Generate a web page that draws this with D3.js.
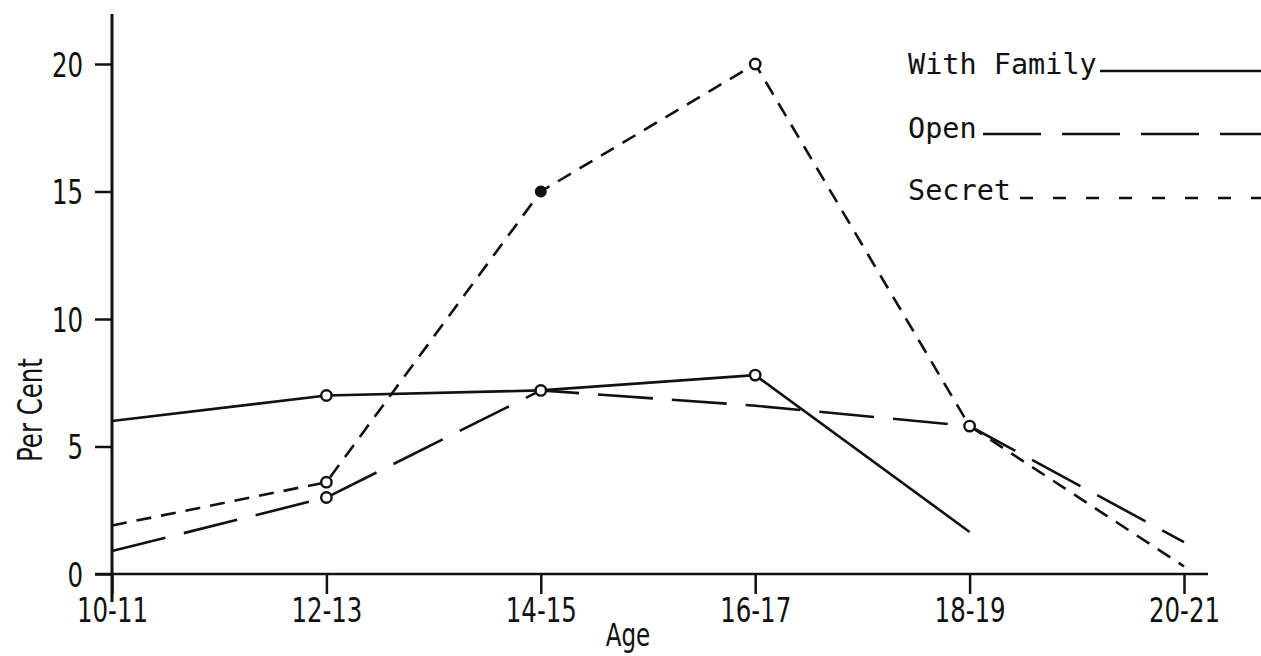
<!DOCTYPE html>
<html>
<head>
<meta charset="utf-8">
<script src="https://cdn.jsdelivr.net/npm/d3@7"></script>
<style>
  html, body { margin: 0; padding: 0; background: #fff; }
  svg { display: block; }
  .tick-lbl { font-family: "Liberation Sans Narrow", "DejaVu Sans Condensed", "Liberation Sans", sans-serif; font-size: 34px; fill: #111; }
  .legend-lbl { font-family: "DejaVu Sans Mono", "Liberation Mono", monospace; font-size: 28.5px; fill: #111; }
</style>
</head>
<body>
<svg id="chart" width="1261" height="656"></svg>
<script>
// ---- data ----
const ages = ["10-11", "12-13", "14-15", "16-17", "18-19", "20-21"];
const yTicks = [0, 5, 10, 15, 20];
const withFamily = [6.0, 7.0, 7.2, 7.8, 1.65, null];
const openDrinking = [0.9, 3.0, 7.2, 6.6, 5.8, 1.25];
const secretDrinking = [1.9, 3.6, 15.0, 20.0, 5.8, 0.3];
// marker type per point: "o" open circle, "f" filled dot, "" none
const familyMarks = ["", "o", "o", "o", "", ""];
const openMarks = ["", "o", "", "", "", ""];
const secretMarks = ["", "o", "f", "o", "o", ""];
const legendLabels = ["With Family", "Open", "Secret"];

// ---- layout ----
const svg = d3.select("#chart");
const x = d3.scalePoint().domain(ages).range([112, 1184]);
const y = d3.scaleLinear().domain([0, 20]).range([574, 64]);
const ink = "#111";
const squeeze = 0.8;

// axes
const yAxis = d3.axisLeft(y).tickValues(yTicks).tickSize(17).tickPadding(12).tickFormat(d3.format("d"));
const gy = svg.append("g").attr("transform", `translate(${x(ages[0])},0)`).call(yAxis);
gy.select(".domain").remove();
gy.selectAll(".tick line").attr("stroke", ink).attr("stroke-width", 2.5);
gy.selectAll(".tick text").attr("class", "tick-lbl").attr("dy", "0.36em")
  .attr("x", -29 / squeeze).attr("transform", `scale(${squeeze},1)`);

const xAxis = d3.axisBottom(x).tickSize(20).tickPadding(4);
const gx = svg.append("g").attr("transform", `translate(0,${y(0)})`).call(xAxis);
gx.select(".domain").remove();
gx.selectAll(".tick line").attr("stroke", ink).attr("stroke-width", 2.5);
gx.selectAll(".tick text").attr("class", "tick-lbl").attr("y", 48).attr("dy", 0)
  .attr("transform", `scale(${squeeze},1)`);

// axis lines
svg.append("line").attr("x1", x(ages[0])).attr("x2", x(ages[0]))
  .attr("y1", 14).attr("y2", 602).attr("stroke", ink).attr("stroke-width", 3);
svg.append("line").attr("x1", 95).attr("x2", 1208)
  .attr("y1", y(0)).attr("y2", y(0)).attr("stroke", ink).attr("stroke-width", 2.5);

// axis titles
svg.append("text").attr("class", "tick-lbl")
  .attr("transform", `translate(628,646) scale(${squeeze},1)`)
  .style("font-size", "32px")
  .attr("text-anchor", "middle").text("Age");
svg.append("text").attr("class", "tick-lbl")
  .attr("transform", `translate(42,410) rotate(-90) scale(${squeeze},1)`)
  .attr("text-anchor", "middle").text("Per Cent");

// series
const series = [
  { values: withFamily, marks: familyMarks, dash: null },
  { values: openDrinking, marks: openMarks, dash: "55,19" },
  { values: secretDrinking, marks: secretMarks, dash: "15,10" }
];
const line = d3.line()
  .defined(d => d.v !== null)
  .x(d => x(d.a)).y(d => y(d.v));

series.forEach(s => {
  const pts = ages.map((a, i) => ({ a, v: s.values[i], m: s.marks[i] }));
  svg.append("path").datum(pts)
    .attr("d", line).attr("fill", "none").attr("stroke", ink)
    .attr("stroke-width", 2.6).attr("stroke-dasharray", s.dash);
});
series.forEach(s => {
  const pts = ages.map((a, i) => ({ a, v: s.values[i], m: s.marks[i] })).filter(d => d.v !== null && d.m);
  svg.selectAll(null).data(pts).enter().append("circle")
    .attr("cx", d => x(d.a)).attr("cy", d => y(d.v))
    .attr("r", d => d.m === "f" ? 4.8 : 5.2)
    .attr("fill", d => d.m === "f" ? ink : "#fff")
    .attr("stroke", ink).attr("stroke-width", 2.4);
});

// legend
const legendY = [74, 138, 200];
const legendLineY = [71, 134, 198];
const legendLineStart = [1100, 983, 1020];
const legendDash = [null, "58,21", "13,20"];
legendLabels.forEach((lbl, i) => {
  svg.append("text").attr("class", "legend-lbl")
    .attr("x", 908).attr("y", legendY[i]).text(lbl);
  svg.append("line")
    .attr("x1", legendLineStart[i]).attr("x2", 1261)
    .attr("y1", legendLineY[i]).attr("y2", legendLineY[i])
    .attr("stroke", ink).attr("stroke-width", 2.6)
    .attr("stroke-dasharray", legendDash[i]);
});
</script>
</body>
</html>
